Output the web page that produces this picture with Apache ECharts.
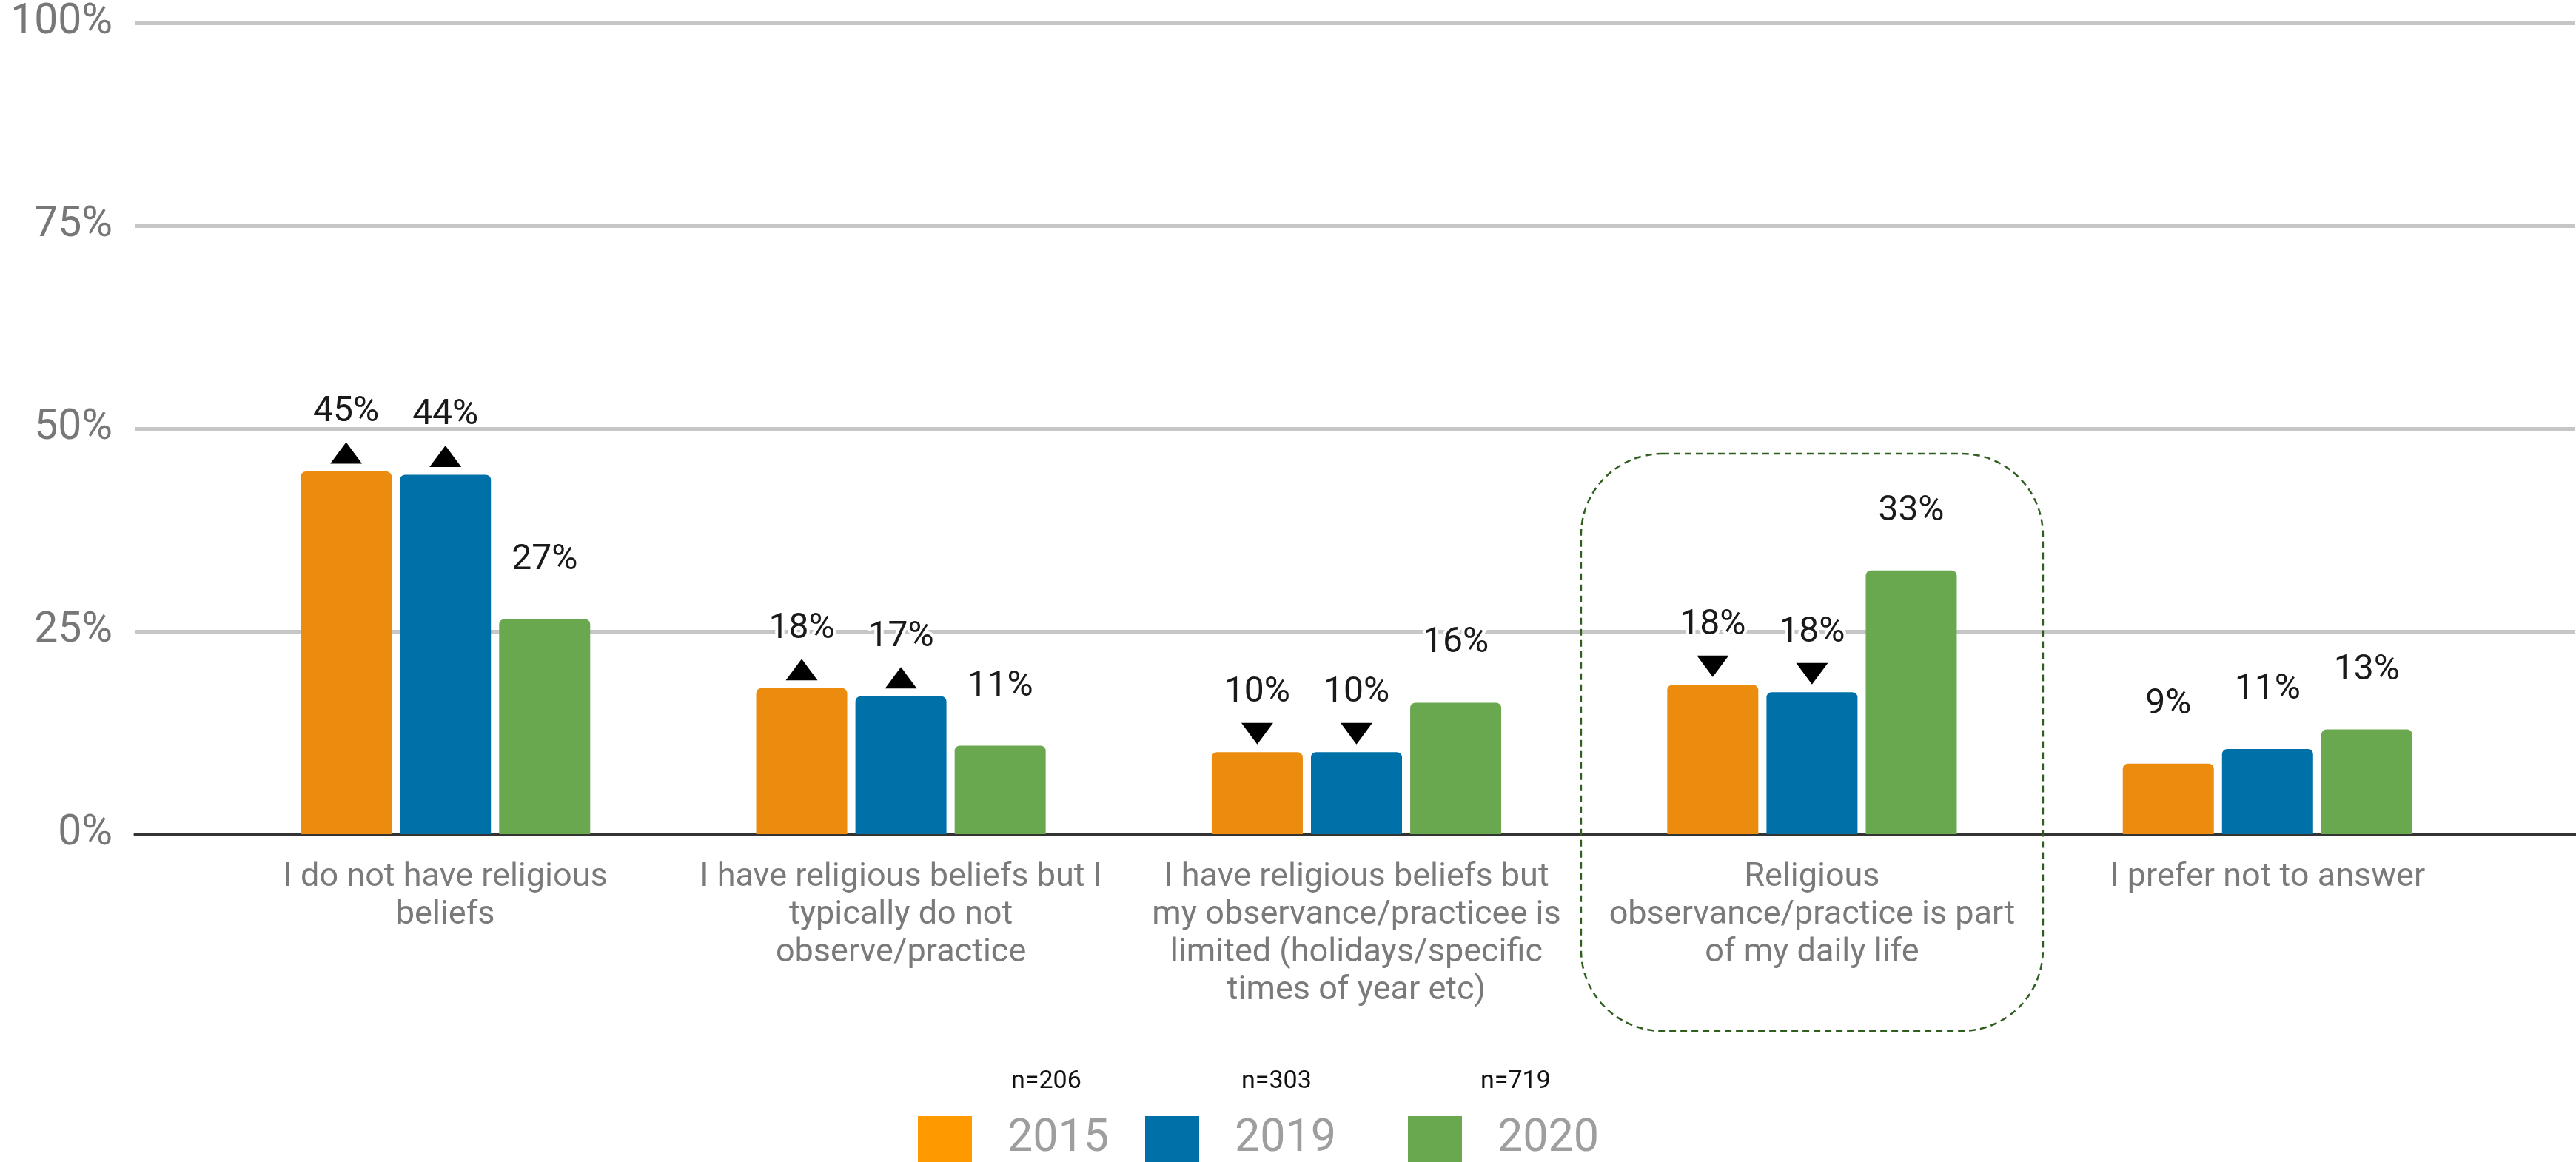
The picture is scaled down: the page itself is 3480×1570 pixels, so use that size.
<!DOCTYPE html>
<html>
<head>
<meta charset="utf-8">
<script src="https://cdn.jsdelivr.net/npm/echarts@6/dist/echarts.min.js"></script>
<style>
  html, body { margin: 0; padding: 0; background: #fff; }
  #chart { width: 3480px; height: 1570px; }
</style>
</head>
<body>
<div id="chart"></div>
<script>
// categories on the x axis
const categories = [
  'I do not have religious\nbeliefs',
  'I have religious beliefs but I\ntypically do not\nobserve/practice',
  'I have religious beliefs but\nmy observance/practicee is\nlimited (holidays/specific\ntimes of year etc)',
  'Religious\nobservance/practice is part\nof my daily life',
  'I prefer not to answer'
]
const years = ['2015', '2019', '2020']
const sampleSizes = [206, 303, 719]
// share of respondents, %
const data2015 = [44.7, 18.0, 10.1, 18.4, 8.7]
const data2019 = [44.3, 17.0, 10.1, 17.5, 10.5]
const data2020 = [26.5, 10.9, 16.2, 32.5, 12.9]
// arrows shown over the 2015 / 2019 bars
const changeMarks = ['up', 'up', 'down', 'down', null]

const barColors = ['#eb8c0f', '#0071a8', '#6aa84f']
const legendColors = ['#ff9900', '#0071a8', '#6aa84f']
const FONT = 'Roboto'

function makeSeries(name, values, color, marks) {
  const s = {
    name: name,
    type: 'bar',
    xAxisIndex: 1,
    yAxisIndex: 1,
    data: values,
    barWidth: 123,
    barGap: '9%',
    itemStyle: { color: color, borderRadius: [7, 7, 0, 0] },
    label: {
      show: true,
      position: 'top',
      distance: 56,
      formatter: p => Math.round(p.value) + '%',
      fontFamily: FONT,
      fontSize: 48,
      color: '#1a1a1a',
      textBorderColor: '#fff',
      textBorderWidth: 8
    }
  }
  if (marks) {
    s.markPoint = {
      silent: true,
      symbol: 'triangle',
      symbolSize: [43, 29],
      symbolOffset: [0, -25],
      itemStyle: { color: '#000' },
      label: { show: false },
      data: values
        .map((v, i) => marks[i] ? { coord: [i, v], symbolRotate: marks[i] === 'up' ? 0 : 180 } : null)
        .filter(Boolean)
    }
  }
  return s
}

const chart = echarts.init(document.getElementById('chart'))

const legendLeft = [1235, 1542, 1897]
const nCenters = [1418, 1729, 2052]

const option = {
  animation: false,
  backgroundColor: '#fff',
  grid: [
    { left: 183, right: 2, top: 31, bottom: 443 }, // gridlines + y labels
    { left: 294, right: 109, top: 31, bottom: 443 } // bars
  ],
  legend: years.map((y, i) => ({
    data: [{ name: y, itemStyle: { color: legendColors[i] } }],
    left: legendLeft[i],
    top: 1503,
    icon: 'rect',
    itemWidth: 73,
    itemHeight: 64,
    selectedMode: false,
    textStyle: { fontFamily: FONT, fontSize: 61, color: '#9e9e9e', padding: [0, 0, 0, 43] }
  })),
  xAxis: [
    {
      gridIndex: 0,
      type: 'value',
      min: 0,
      max: 1,
      axisLine: { show: true, lineStyle: { color: '#333', width: 5 } },
      axisTick: { show: false },
      axisLabel: { show: false },
      splitLine: { show: false }
    },
    {
      gridIndex: 1,
      type: 'category',
      data: categories,
      axisLine: { show: false },
      axisTick: { show: false },
      axisLabel: {
        interval: 0,
        margin: 33,
        fontFamily: FONT,
        fontSize: 45,
        lineHeight: 51,
        color: '#7a7a7a',
        align: 'center'
      }
    }
  ],
  yAxis: [
    {
      gridIndex: 0,
      type: 'value',
      min: 0,
      max: 100,
      interval: 25,
      axisLine: { show: false },
      axisTick: { show: false },
      axisLabel: { formatter: '{value}%', fontFamily: FONT, fontSize: 57, color: '#777', margin: 31 },
      splitLine: { lineStyle: { color: '#c6c6c6', width: 5 } }
    },
    {
      gridIndex: 1,
      type: 'value',
      min: 0,
      max: 100,
      show: false
    }
  ],
  graphic: sampleSizes.map((n, i) => ({
    type: 'text',
    id: 'n' + i,
    left: nCenters[i] - 52,
    top: 1444,
    style: { text: 'n=' + n, fontFamily: FONT, fontSize: 34, fill: '#111' }
  })),
  series: [
    makeSeries(years[0], data2015, barColors[0], changeMarks),
    makeSeries(years[1], data2019, barColors[1], changeMarks),
    makeSeries(years[2], data2020, barColors[2], null)
  ]
}

chart.setOption(option)

// dashed highlight around the 4th category
const cx = chart.convertToPixel({ xAxisIndex: 1 }, 3)
chart.setOption({
  graphic: [{
    type: 'rect',
    id: 'highlight',
    shape: { x: cx - 312, y: 613, width: 624, height: 780, r: 110 },
    style: { fill: 'none', stroke: '#2f5e1f', lineWidth: 2.5, lineDash: [9, 6] },
    silent: true,
    z: 10
  }]
})
</script>
</body>
</html>
